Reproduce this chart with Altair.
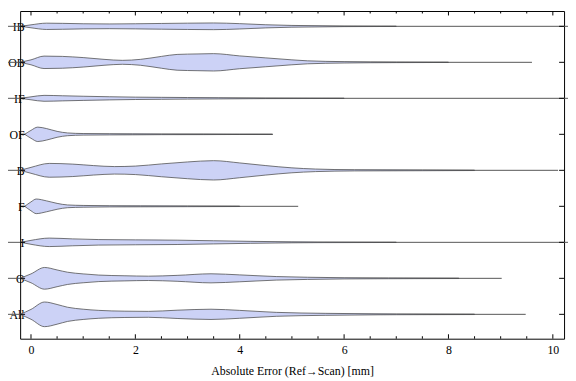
import altair as alt
import pandas as pd

categories = ["IB", "OB", "IF", "OF", "B", "F", "I", "O", "All"]

# violin profiles: x = absolute error [mm], w = half width of density shape
ib_x = [-0.2, 0.0, 0.3, 0.6, 1.0, 1.5, 2.0, 2.5, 3.0, 3.5, 4.0, 4.5, 5.0, 5.5, 6.0, 7.0]
ib_w = [0, 1.5, 3.2, 3.0, 2.6, 2.4, 2.6, 2.9, 3.2, 3.4, 2.7, 1.6, 0.9, 0.6, 0.3, 0.15]
ob_x = [-0.21, 0.0, 0.25, 0.6, 1.0, 1.4, 1.75, 2.1, 2.5, 2.8, 3.2, 3.5, 4.0, 4.5, 5.0, 5.3, 6.0, 7.0, 8.0]
ob_w = [0, 2.5, 6.3, 6.0, 4.8, 3.0, 2.0, 3.0, 6.0, 8.0, 8.5, 8.8, 6.5, 4.5, 2.5, 1.5, 0.7, 0.3, 0.15]
if_x = [-0.21, 0.0, 0.25, 0.6, 1.0, 1.5, 2.0, 2.5, 3.0, 3.6, 4.5, 6.0]
if_w = [0, 1.5, 3.0, 2.6, 2.1, 1.6, 1.2, 1.0, 0.8, 0.6, 0.3, 0.15]
of_x = [-0.12, 0.0, 0.13, 0.3, 0.5, 0.7, 1.0, 1.5, 1.95, 2.5, 3.3, 4.0, 4.63]
of_w = [0, 4.0, 7.3, 5.8, 3.0, 1.4, 0.8, 0.6, 0.5, 0.35, 0.3, 0.15, 0.1]
b_x = [-0.21, 0.0, 0.35, 0.8, 1.2, 1.6, 2.0, 2.5, 3.0, 3.5, 4.0, 4.5, 5.0, 5.45, 6.2, 7.5, 8.5]
b_w = [0, 3.0, 7.0, 6.3, 4.8, 3.8, 4.3, 6.5, 8.5, 9.8, 7.5, 4.8, 2.5, 1.3, 0.6, 0.4, 0.2]
f_x = [-0.12, 0.0, 0.1, 0.3, 0.5, 0.7, 1.0, 1.5, 2.1, 3.0, 4.0]
f_w = [0, 4.5, 7.4, 5.5, 3.0, 1.4, 0.9, 0.6, 0.5, 0.35, 0.2]
i_x = [-0.2, 0.0, 0.35, 0.8, 1.3, 2.0, 2.8, 3.5, 4.2, 5.0, 5.5, 7.0]
i_w = [0, 2.0, 4.3, 3.5, 2.8, 2.5, 2.2, 1.6, 1.0, 0.5, 0.3, 0.15]
o_x = [-0.21, 0.0, 0.26, 0.5, 0.7, 1.0, 1.3, 1.8, 2.25, 2.8, 3.45, 4.0, 4.7, 5.3, 6.0, 6.85, 8.2]
o_w = [0, 4.5, 11.0, 8.5, 6.2, 4.5, 3.3, 2.6, 2.2, 3.0, 4.6, 3.5, 1.8, 1.1, 0.6, 0.4, 0.2]
all_x = [-0.21, 0.0, 0.26, 0.5, 0.7, 1.0, 1.3, 1.8, 2.25, 2.8, 3.45, 4.0, 4.7, 5.65, 6.65, 7.0, 8.5]
all_w = [0, 5.0, 12.5, 10.0, 7.2, 5.2, 4.0, 3.2, 3.0, 4.2, 5.2, 4.0, 2.0, 1.0, 0.5, 0.4, 0.2]

# extent of the thin tail line per category
line_start = [-0.6, -0.6, -0.6, -0.12, -0.6, -0.12, -0.6, -0.6, -0.6]
line_end = [10.4, 9.6, 10.4, 4.63, 10.1, 5.12, 10.4, 9.02, 9.48]

major_ticks = [0, 2, 4, 6, 8, 10]
minor_ticks = [0.5, 1, 1.5, 2.5, 3, 3.5, 4.5, 5, 5.5, 6.5, 7, 7.5, 8.5, 9, 9.5]

profiles = [(ib_x, ib_w), (ob_x, ob_w), (if_x, if_w), (of_x, of_w), (b_x, b_w),
            (f_x, f_w), (i_x, i_w), (o_x, o_w), (all_x, all_w)]

rows = []
for k, (xs, ws) in enumerate(profiles):
    for xv, wv in zip(xs, ws):
        rows.append({"cat": categories[k], "idx": k, "x": xv, "w": wv})
vdf = pd.DataFrame(rows)
ldf = pd.DataFrame({"cat": categories, "idx": list(range(len(categories))),
                    "start": line_start, "end": line_end})
mdf = pd.DataFrame({"t": major_ticks})
ndf = pd.DataFrame({"t": minor_ticks})
cdf = pd.DataFrame({"idx": list(range(len(categories)))})

W = 551.4
H = 332.2
PX_PER_UNIT = 36.5

xscale = alt.Scale(domain=[-0.208, 10.215], nice=False, zero=False)
yscale = alt.Scale(domain=[-0.425, 8.677], reverse=True, nice=False, zero=False)

label_expr = "[" + ",".join("'%s'" % c for c in categories) + "][datum.value]"
FONT = "Liberation Serif"
LINE = "#555555"
XTITLE = "Absolute Error (Ref\u2192Scan) [mm]"

xaxis = alt.Axis(values=major_ticks, format="d", ticks=False, tickSize=0,
                 domain=False, grid=False, labelFont=FONT, labelFontSize=12,
                 labelColor="#000000", labelPadding=6, labelFlush=False,
                 title=XTITLE, titleFont=FONT, titleFontSize=12,
                 titleFontWeight="normal", titleColor="#000000", titlePadding=10)
yaxis = alt.Axis(values=list(range(len(categories))), labelExpr=label_expr,
                 ticks=False, tickSize=0, domain=False, grid=False,
                 labelFont=FONT, labelFontSize=12, labelColor="#000000",
                 labelPadding=-4, title=" ")


def X(field):
    return alt.X(field, scale=xscale, axis=xaxis, title=XTITLE)


def Y(field):
    return alt.Y(field, scale=yscale, axis=yaxis, title=" ")


tails = alt.Chart(ldf).mark_rule(stroke=LINE, strokeWidth=1, clip=False).encode(
    x=X("start:Q"), x2="end:Q", y=Y("idx:Q"),
)

violins = alt.Chart(vdf).transform_calculate(
    lo="datum.idx - datum.w / %f" % PX_PER_UNIT,
    hi="datum.idx + datum.w / %f" % PX_PER_UNIT,
).mark_area(interpolate="monotone", fill="#ccd2f6", stroke="#4a4a4a",
            strokeWidth=0.9, strokeOpacity=0.85, clip=False).encode(
    x=X("x:Q"), y=Y("lo:Q"), y2="hi:Q", detail="cat:N",
)

bot_major = alt.Chart(mdf).mark_rule(stroke="#000000").encode(
    x=X("t:Q"), y=alt.value(H), y2=alt.value(H - 4.5))
top_major = alt.Chart(mdf).mark_rule(stroke="#000000").encode(
    x=X("t:Q"), y=alt.value(0), y2=alt.value(4.5))
bot_minor = alt.Chart(ndf).mark_rule(stroke="#000000").encode(
    x=X("t:Q"), y=alt.value(H), y2=alt.value(H - 2.5))
top_minor = alt.Chart(ndf).mark_rule(stroke="#000000").encode(
    x=X("t:Q"), y=alt.value(0), y2=alt.value(2.5))
left_ticks = alt.Chart(cdf).mark_rule(stroke="#000000").encode(
    y=Y("idx:Q"), x=alt.value(0), x2=alt.value(5))
right_ticks = alt.Chart(cdf).mark_rule(stroke="#000000").encode(
    y=Y("idx:Q"), x=alt.value(W - 5), x2=alt.value(W))

chart = alt.layer(
    tails, violins, bot_major, top_major, bot_minor, top_minor, left_ticks, right_ticks
).properties(
    width=W, height=H,
    padding={"left": 12.3, "top": 0.5, "right": 4, "bottom": 40},
    autosize=alt.AutoSizeParams(type="none"),
).configure(
    background="#ffffff",
    view=alt.ViewConfig(stroke="#000000", strokeWidth=1),
)

chart.save("out.html", embed_options={"renderer": "svg", "actions": False})
